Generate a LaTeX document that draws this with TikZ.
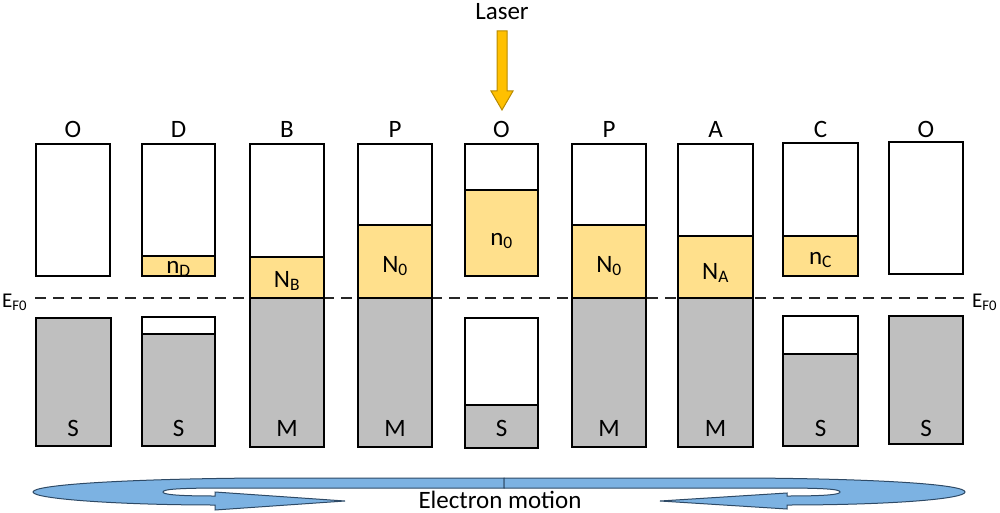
\documentclass[tikz,border=0pt]{standalone}
\usepackage{fontspec}
\setmainfont{Carlito}
\definecolor{yel}{HTML}{FFE08C}
\definecolor{gry}{HTML}{BFBFBF}
\definecolor{bluef}{HTML}{7CB2E2}
\definecolor{bluel}{HTML}{2E4A66}
\definecolor{lasf}{HTML}{FFC000}
\definecolor{lasl}{HTML}{B88A00}
\tikzset{
  edge/.style={draw=black, line width=1.5pt},
  lbl/.style={inner sep=0pt, anchor=base, font=\fontsize{25}{30}\selectfont},
  efermi/.style={inner sep=0pt, anchor=base west, font=\fontsize{21}{25}\selectfont},
}
% two-part box: x1 x2 top split bottom lowercolour (upper is white)
\newcommand\EBox[6]{%
  \fill[white] (#1,-#3) rectangle (#2,-#4);
  \fill[#6] (#1,-#4) rectangle (#2,-#5);
  \draw[edge] (#1,-#4) -- (#2,-#4);
  \draw[edge] (#1,-#3) rectangle (#2,-#5);}
% three-part box: x1 x2 top s1 s2 bottom (white / yellow / gray)
\newcommand\TBox[6]{%
  \fill[white] (#1,-#3) rectangle (#2,-#4);
  \fill[yel] (#1,-#4) rectangle (#2,-#5);
  \fill[gry] (#1,-#5) rectangle (#2,-#6);
  \draw[edge] (#1,-#4) -- (#2,-#4);
  \draw[edge] (#1,-#5) -- (#2,-#5);
  \draw[edge] (#1,-#3) rectangle (#2,-#6);}
\begin{document}
\begin{tikzpicture}[x=1pt,y=1pt]
\useasboundingbox (0,0) rectangle (1000,-513);
% Fermi level
\draw[dashed, dash pattern=on 11pt off 7pt, line width=1.1pt, black!85] (35,-298) -- (967,-298);
\node[efermi] (efl) at (2,-307) {E\textsubscript{F0}};
\node[efermi] (efr) at (972,-307) {E\textsubscript{F0}};
% column 1 O
\draw[edge, fill=white] (36,-144) rectangle (110,-276);
\draw[edge, fill=gry] (36,-318) rectangle (111,-446);
% column 2 D
\EBox{142}{215}{144}{256}{276}{yel}
\EBox{142}{215}{317}{334}{446}{gry}
% column 3 B
\TBox{250}{324}{144}{257}{298}{447}
% column 4 P
\TBox{358}{432}{144}{225}{298}{447}
% column 5 O
\EBox{465}{538}{144}{190}{276}{yel}
\EBox{465}{538}{318}{405}{448}{gry}
% column 6 P
\TBox{572}{646}{144}{225}{298}{447}
% column 7 A
\TBox{678}{753}{144}{236}{298}{447}
% column 8 C
\EBox{783}{858}{143}{236}{276}{yel}
\EBox{783}{858}{316}{354}{446}{gry}
% column 9 O
\draw[edge, fill=white] (889,-142) rectangle (963,-274);
\draw[edge, fill=gry] (889,-316) rectangle (963,-444);
% column labels
\node[lbl] (t1) at (73,-138) {O};
\node[lbl] (t2) at (178.5,-138) {D};
\node[lbl] (t3) at (287,-138) {B};
\node[lbl] (t4) at (395,-138) {P};
\node[lbl] (t5) at (501.5,-138) {O};
\node[lbl] (t6) at (609,-138) {P};
\node[lbl] (t7) at (715.5,-138) {A};
\node[lbl] (t8) at (820.5,-138) {C};
\node[lbl] (t9) at (926,-138) {O};
% band labels
\node[lbl] (u2) at (178.5,-273) {n\textsubscript{D}};
\node[lbl] (u3) at (287,-287) {N\textsubscript{B}};
\node[lbl] (u4) at (395,-272) {N\textsubscript{0}};
\node[lbl] (u5) at (501.5,-245) {n\textsubscript{0}};
\node[lbl] (u6) at (609,-272) {N\textsubscript{0}};
\node[lbl] (u7) at (715.5,-279) {N\textsubscript{A}};
\node[lbl] (u8) at (820.5,-264) {n\textsubscript{C}};
% material labels
\node[lbl] (m1) at (73,-436) {S};
\node[lbl] (m2) at (178.5,-436) {S};
\node[lbl] (m3) at (287,-436) {M};
\node[lbl] (m4) at (395,-436) {M};
\node[lbl] (m5) at (501.5,-436) {S};
\node[lbl] (m6) at (609,-436) {M};
\node[lbl] (m7) at (715.5,-436) {M};
\node[lbl] (m8) at (820.5,-436) {S};
\node[lbl] (m9) at (926,-436) {S};
% laser
\node[lbl] (laser) at (502,-20) {Laser};
\draw[fill=lasf, draw=lasl, line width=1pt, line join=miter]
  (497,-31) -- (507,-31) -- (507,-91) -- (513,-91) -- (502,-110) -- (491,-91) -- (497,-91) -- cycle;
% electron motion arrows
\draw[fill=bluef, draw=bluel, line width=1pt]
  (504,-478) -- (260,-478) .. controls (120,-479) and (33,-485) .. (33,-492)
  .. controls (33,-499) and (120,-505) .. (215,-505) -- (215,-510) -- (345,-501) -- (215,-492) -- (215,-496)
  .. controls (172,-496) and (163,-494) .. (163,-492)
  .. controls (163,-489) and (180,-488) .. (230,-488) -- (504,-488) -- cycle;
\draw[fill=bluef, draw=bluel, line width=1pt]
  (504,-478) -- (750,-478) .. controls (890,-479) and (965,-485) .. (965,-492)
  .. controls (965,-499) and (890,-505) .. (787,-505) -- (787,-509) -- (660,-501) -- (787,-493) -- (787,-496)
  .. controls (832,-496) and (840,-494) .. (840,-492)
  .. controls (840,-489) and (823,-488) .. (775,-488) -- (504,-488) -- cycle;
\node[lbl] (em) at (500,-508) {Electron motion};
\end{tikzpicture}
\end{document}
